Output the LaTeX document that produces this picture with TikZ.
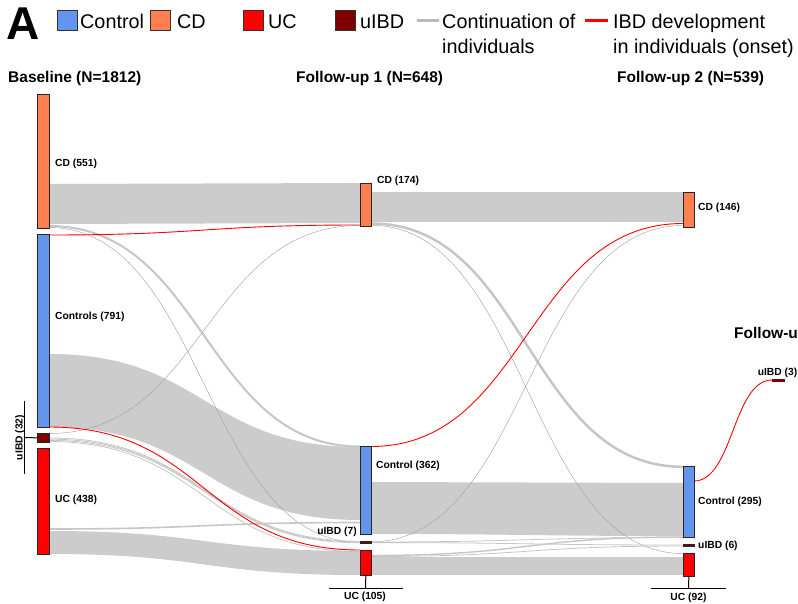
\documentclass[tikz,border=0pt]{standalone}
\usepackage{fontspec}
\setmainfont{Liberation Sans}
\definecolor{ctrlc}{HTML}{6495ED}
\definecolor{cdc}{HTML}{FF7F50}
\definecolor{ucc}{HTML}{FF0000}
\definecolor{uibdc}{HTML}{800000}
\definecolor{flowc}{HTML}{CCCCCC}
\definecolor{linec}{HTML}{C6C6C6}
\definecolor{hairc}{HTML}{A4A4A4}
\definecolor{legl}{HTML}{BBBBBB}
\begin{document}
\begin{tikzpicture}[x=1pt,y=-1pt,
  bar/.style={draw=black!85, line width=0.7pt, inner sep=0pt, anchor=north west},
  bw0/.style={minimum width=12pt},
  bw1/.style={minimum width=11pt},
  flow/.style={fill=flowc},
  gl/.style={draw=linec, line width=1.1pt},
  hl/.style={draw=hairc, line width=0.45pt},
  rl/.style={draw=ucc, line width=0.9pt},
  lab/.style={font=\bfseries\fontsize{10.3}{12}\selectfont, inner sep=0pt, anchor=base west},
  hdr/.style={font=\bfseries\fontsize{15.5}{18}\selectfont, inner sep=0pt, anchor=base west},
  leg/.style={font=\fontsize{19.8}{24}\selectfont, inner sep=0pt, anchor=base west},
  legbox/.style={draw=black!80, line width=0.7pt, inner sep=0pt, minimum width=20pt, minimum height=20pt, anchor=north west},
  stem/.style={draw=black, line width=1pt}]
\useasboundingbox (0,0) rectangle (798,604);

% ---------- legend ----------
\node[font=\bfseries\fontsize{46}{50}\selectfont, inner sep=0pt, anchor=base west] (tA) at (6.5,39.5) {A};
\node[legbox, fill=ctrlc] (k1) at (57,10) {};
\node[leg] (t1) at (80,28.5) {Control};
\node[legbox, fill=cdc] (k2) at (150,10) {};
\node[leg] (t2) at (177,28.5) {CD};
\node[legbox, fill=ucc] (k3) at (242.5,10) {};
\node[leg] (t3) at (268,28.5) {UC};
\node[legbox, fill=uibdc] (k4) at (334.5,10) {};
\node[leg] (t4) at (360,28.5) {uIBD};
\coordinate (g1) at (417,20.5); \coordinate (g2) at (439,20.5);
\draw[draw=legl, line width=3.5pt] (g1) -- (g2);
\node[leg] (t5) at (442,28.5) {Continuation of};
\node[leg] (t5b) at (442,53.5) {individuals};
\coordinate (r1) at (585,20.5); \coordinate (r2) at (608,20.5);
\draw[draw=ucc, line width=3.5pt] (r1) -- (r2);
\node[leg] (t6) at (613,28.5) {IBD development};
\node[leg] (t6b) at (613,53.5) {in individuals (onset)};

% ---------- headers ----------
\node[hdr] (h0) at (8,83) {Baseline (N=1812)};
\node[hdr] (h1) at (296,83) {Follow-up 1 (N=648)};
\node[hdr] (h2) at (617,83) {Follow-up 2 (N=539)};
\node[hdr] (h3) at (734,338.5) {Follow-u};

% ---------- bands baseline -> FU1 ----------
\fill[flow] (49,184) .. controls (204.5,184) and (204.5,183) .. (360,183) -- (360,223) .. controls (204.5,223) and (204.5,224) .. (49,224) -- cycle;
\fill[flow] (49,354) .. controls (204.5,354) and (204.5,447) .. (360,447) -- (360,520) .. controls (204.5,520) and (204.5,427) .. (49,427) -- cycle;
\fill[flow] (49,531) .. controls (204.5,531) and (204.5,551) .. (360,551) -- (360,575) .. controls (204.5,575) and (204.5,554) .. (49,554) -- cycle;
% ---------- bands FU1 -> FU2 ----------
\fill[flow] (371,192) rectangle (683,222);
\fill[flow] (371,482) .. controls (527,482) and (527,483) .. (683,483) -- (683,536) .. controls (527,536) and (527,534) .. (371,534) -- cycle;
\fill[flow] (371,557) rectangle (683,575);

% ---------- lines baseline -> FU1 ----------
\draw[gl, line width=2pt] (49,226) .. controls (204.5,226) and (204.5,446.5) .. (360,446.5);
\draw[hl] (49,227.5) .. controls (204.5,227.5) and (204.5,542.3) .. (360,542.3);
\draw[hl] (49,433.5) .. controls (204.5,433.5) and (204.5,225.5) .. (360,225.5);
\draw[gl, line width=0.8pt] (49,438) .. controls (204.5,438) and (204.5,541.2) .. (360,541.2);
\draw[gl, line width=0.8pt] (49,439.2) .. controls (204.5,439.2) and (204.5,542) .. (360,542);
\draw[gl, line width=0.8pt] (49,440.4) .. controls (204.5,440.4) and (204.5,542.8) .. (360,542.8);
\draw[gl, line width=0.8pt] (49,441.5) .. controls (204.5,441.5) and (204.5,551.5) .. (360,551.5);
\draw[gl, line width=1.6pt] (49,529) .. controls (204.5,529) and (204.5,522.5) .. (360,522.5);
\draw[rl] (49,235) .. controls (204.5,235) and (204.5,225) .. (360,225);
\draw[rl] (49,427) .. controls (204.5,427) and (204.5,550) .. (360,550);

% ---------- lines FU1 -> FU2 ----------
\draw[gl, line width=2.5pt] (371,223.5) .. controls (527,223.5) and (527,466.8) .. (683,466.8);
\draw[hl] (371,225.3) .. controls (527,225.3) and (527,553.5) .. (683,553.5);
\draw[hl] (371,541.8) .. controls (527,541.8) and (527,225.5) .. (683,225.5);
\draw[gl, line width=0.8pt] (371,542) .. controls (527,542) and (527,537.5) .. (683,537.5);
\draw[gl, line width=0.8pt] (371,542.6) .. controls (527,542.6) and (527,545) .. (683,545);
\draw[gl, line width=1.4pt] (371,555.5) .. controls (527,555.5) and (527,537) .. (683,537);
\draw[gl, line width=0.8pt] (371,556.5) .. controls (527,556.5) and (527,546) .. (683,546);
\draw[rl] (371,446.5) .. controls (527,446.5) and (527,223.5) .. (683,223.5);

% ---------- FU2 -> FU3 ----------
\draw[rl] (694,481) .. controls (733,481) and (733,380) .. (772,380);

% ---------- bars ----------
\node[bar, bw0, fill=cdc,   minimum height=134pt] (bcd)  at (37,94) {};
\node[bar, bw0, fill=ctrlc, minimum height=193pt] (bctl) at (37,234) {};
\node[bar, bw0, fill=uibdc, minimum height=9pt]   (bui)  at (37,433) {};
\node[bar, bw0, fill=ucc,   minimum height=106pt] (buc)  at (37,448) {};

\node[bar, bw1, fill=cdc,   minimum height=43pt] (acd)  at (360,183) {};
\node[bar, bw1, fill=ctrlc, minimum height=88pt] (actl) at (360,446) {};
\node[bar, bw1, fill=uibdc, minimum height=2pt]  (aui)  at (360,541) {};
\node[bar, bw1, fill=ucc,   minimum height=25pt] (auc)  at (360,550) {};

\node[bar, bw1, fill=cdc,   minimum height=35pt] (ccd)  at (683,192) {};
\node[bar, bw1, fill=ctrlc, minimum height=71pt] (cctl) at (683,466) {};
\node[bar, bw1, fill=uibdc, minimum height=2pt]  (cui)  at (683,544) {};
\node[bar, bw1, fill=ucc,   minimum height=23pt] (cuc)  at (683,553) {};

\node[bar, minimum width=12pt, fill=uibdc, draw=uibdc, minimum height=2pt] (dui) at (772,379) {};

% ---------- brackets ----------
\coordinate (br1) at (24,401); \coordinate (br2) at (24,474); \coordinate (br3) at (24,437.5);
\draw[stem] (br1) -- (br2);
\draw[stem] (br3) -- (bui.west);
\coordinate (s1) at (365.5,588); \coordinate (s1l) at (329,588); \coordinate (s1r) at (403,588);
\draw[stem] (auc.south) -- (s1);
\draw[stem] (s1l) -- (s1r);
\coordinate (s2) at (688.5,588); \coordinate (s2l) at (651,588); \coordinate (s2r) at (726,588);
\draw[stem] (cuc.south) -- (s2);
\draw[stem] (s2l) -- (s2r);

% ---------- labels ----------
\node[lab] (lbcd) at (55,166.5) {CD (551)};
\node[lab] (lbctl) at (55,319.5) {Controls (791)};
\node[lab] (lbuc) at (55,502) {UC (438)};
\node[lab, rotate=90, anchor=base] (lbui) at (22.5,437.5) {uIBD (32)};

\node[lab] (lacd) at (377,184) {CD (174)};
\node[lab] (lactl) at (376,468) {Control (362)};
\node[lab, anchor=base east] (laui) at (357,534) {uIBD (7)};
\node[lab, anchor=base] (lauc) at (365,599) {UC (105)};

\node[lab] (lccd) at (698,211) {CD (146)};
\node[lab] (lcctl) at (698,504) {Control (295)};
\node[lab] (lcui) at (698,548) {uIBD (6)};
\node[lab, anchor=base] (lcuc) at (688.5,600) {UC (92)};

\node[lab, anchor=base] (ldui) at (777.5,375) {uIBD (3)};
\end{tikzpicture}
\end{document}
